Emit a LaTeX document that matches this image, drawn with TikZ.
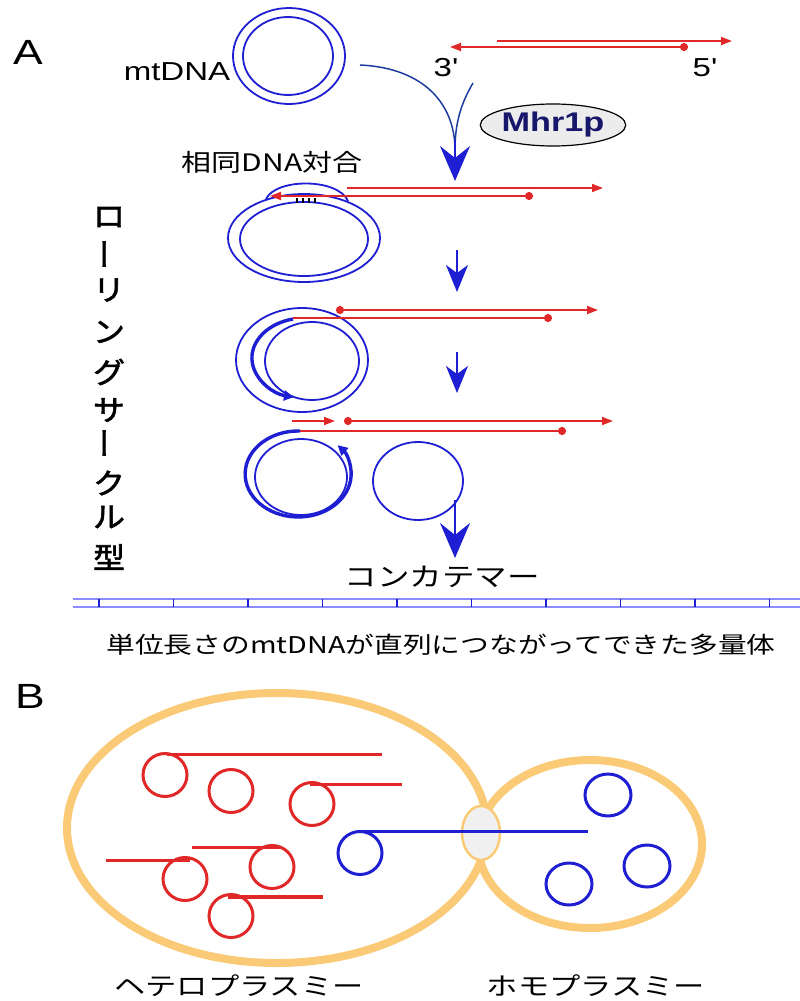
\documentclass[tikz,border=0pt]{standalone}
\usepackage{fontspec}
\setmainfont[FakeStretch=1.27]{Liberation Sans}
\newfontfamily\lat[FakeStretch=1.27]{Liberation Sans}
\newfontfamily\jp[FakeStretch=1.25]{Noto Sans CJK JP}
\newfontfamily\jpb[FakeStretch=1.1,FakeBold=2]{Noto Sans CJK JP}
\usetikzlibrary{arrows.meta,shapes.geometric}

\definecolor{dnablue}{RGB}{30,30,210}
\definecolor{arcblue}{RGB}{30,60,160}
\definecolor{dnared}{RGB}{225,40,40}
\definecolor{cellwall}{RGB}{250,202,118}
\definecolor{protnavy}{RGB}{22,22,106}
\definecolor{concat}{RGB}{140,140,255}

\tikzset{
  bluestrand/.style={draw=dnablue,line width=1.8pt},
  newstrand/.style={draw=dnablue,line width=3.4pt},
  redstrand/.style={draw=dnared,line width=1.8pt},
  redtip/.style={-{Triangle[length=11pt,width=8pt]}},
  dottip/.style={{Circle[length=8pt]}-{Triangle[length=11pt,width=8pt]}},
  bigflow/.style={dnablue,line width=1.8pt,-{Stealth[length=35pt,width=30pt,inset=12pt]}},
  flow/.style={dnablue,line width=1.8pt,-{Stealth[length=27pt,width=22pt,inset=8pt]}},
  lbl/.style={inner sep=0pt,font=\fontsize{26}{26}\selectfont},
  jlbl/.style={inner sep=0pt,font=\jp\fontsize{24}{24}\selectfont},
  cell/.style={draw=cellwall,line width=8pt},
  loopred/.style={draw=dnared,line width=3pt},
  loopblue/.style={draw=dnablue,line width=3pt},
}

\begin{document}
\begin{tikzpicture}[x=1pt,y=-1pt]
\pgfsetlinewidth{1.8pt}
\useasboundingbox (0,0) rectangle (800,1001);
%
% A: entrada de la mtDNA
\node[lbl,font=\fontsize{35}{35}\selectfont] (A) at (28,52) {A};
\node[lbl] (mt) at (177,72) {mtDNA};
\draw[bluestrand] (289,56) ellipse[x radius=56,y radius=48];
\draw[bluestrand] (288,56) ellipse[x radius=45,y radius=39];
\draw[redstrand,redtip] (497,41) -- (732,41);
\draw[redstrand,dottip] (688,47) -- (450,47);
\node[lbl,font=\lat\fontsize{26}{26}\selectfont] (p3) at (446,68) {3'};
\node[lbl,font=\lat\fontsize{26}{26}\selectfont] (p5) at (705,68) {5'};
\node[draw,ellipse,fill=gray!15,line width=1.2pt,minimum width=128pt,minimum height=42pt,
  inner sep=0pt,font=\bfseries\fontsize{27}{27}\selectfont,text=protnavy] (mhr) at (553,125) {Mhr1p};
%
\coordinate (ltop) at (360,65);
\coordinate (rtop) at (473,83);
\coordinate (meet) at (455,150);
\coordinate (pair) at (455,181);
\draw[arcblue,line width=1.5pt] (ltop) .. controls (425,68) and (455,105) .. (meet);
\draw[arcblue,line width=1.5pt] (rtop) .. controls (460,105) and (455,125) .. (meet);
\draw[bigflow] (455,140) -- (pair);
\node[jlbl] (homol) at (272,162) {相同DNA対合};
%
% apareamiento (D-loop)
\draw[bluestrand] (304,238) ellipse[x radius=76,y radius=44];
\draw[bluestrand] (304,239) ellipse[x radius=64,y radius=37];
\draw[bluestrand] (266,199) .. controls (276,178) and (338,178) .. (348,201);
\foreach \x in {297,303,309,315}
  \draw[black,line width=1.2pt] (\x,198) -- (\x,203);
\draw[redstrand,redtip] (347,188) -- (603,188);
\draw[redstrand,dottip] (533,196) -- (270,196);
\coordinate (s1) at (457,250);
\coordinate (s1e) at (457,292);
\draw[flow] (s1) -- (s1e);
%
% replicacion en circulo rodante
\draw[bluestrand] (302,360) ellipse[x radius=66,y radius=52];
\draw[bluestrand] (312,361) ellipse[x radius=47,y radius=39];
\draw[newstrand,-{Triangle[length=10pt,width=10pt]}] (293,319)
  arc[start angle=-103,end angle=-258,x radius=53,y radius=40];
\draw[redstrand,dottip] (336,310) -- (598,310);
\draw[redstrand,-{Circle[length=8pt]}] (293,318) -- (552,318);
\coordinate (s2) at (457,352);
\coordinate (s2e) at (457,393);
\draw[flow] (s2) -- (s2e);
%
\draw[bluestrand] (301,477) ellipse[x radius=46,y radius=38];
\draw[newstrand,-{Triangle[length=10pt,width=10pt]}] (300,431)
  arc[start angle=-88,end angle=-402,x radius=53,y radius=43];
\draw[bluestrand] (418,481) ellipse[x radius=45,y radius=39];
\draw[redstrand,redtip] (292,421) -- (335,421);
\draw[redstrand,dottip] (344,421) -- (613,421);
\draw[redstrand,-{Circle[length=8pt]}] (300,431) -- (566,431);
\coordinate (s3) at (455,500);
\coordinate (s3e) at (455,558);
\draw[bigflow] (s3) -- (s3e);
%
% rotulo vertical
\foreach \ch/\yy/\rot [count=\i] in {ロ/217/0,ー/254/90,リ/290/0,ン/332/0,グ/372/0,
  サ/410/0,ー/443/90,ク/483/0,ル/517/0,型/557/0}
  \node[inner sep=0pt,font=\jpb\fontsize{29}{29}\selectfont,rotate=\rot] (rc\i) at (109,\yy) {\ch};
%
% concatemero
\node[jlbl,font=\jp\fontsize{26}{26}\selectfont] (conc) at (442,577) {コンカテマー};
\draw[concat,line width=2.6pt] (73,599) -- (800,599);
\draw[concat,line width=2.6pt] (73,607) -- (800,607);
\foreach \k in {0,...,9}
  \draw[dnablue,line width=1.6pt] ({99+74.5*\k},599) -- ++(0,8);
\node[jlbl,font=\jp\fontsize{23}{23}\selectfont] (unit) at (441,645)
  {単位長さのmtDNAが直列につながってできた多量体};
%
% B: celulas
\node[lbl,font=\fontsize{35}{35}\selectfont] (B) at (30,696) {B};
\draw[cell] (590,844) ellipse[x radius=112,y radius=84];
\draw[cell] (277,828) ellipse[x radius=210,y radius=135];
\draw[draw=cellwall,fill=gray!12,line width=2.5pt] (481,833) ellipse[x radius=19,y radius=27];
%
\foreach \cx/\cy in {165/775,231/791,312/804,185/879,272/867,231/916}
  \draw[loopred] (\cx,\cy) ellipse[x radius=22,y radius=21.5];
\draw[loopred] (167,754) -- (382,754);
\draw[loopred] (310,784) -- (402,784);
\draw[loopred] (106,860) -- (190,860);
\draw[loopred] (192,847) -- (280,847);
\draw[loopred,line width=4.5pt] (228,897) -- (323,897);
%
\draw[loopblue] (360,853) ellipse[x radius=22,y radius=21.5];
\draw[loopblue] (357,831) -- (588,831);
\foreach \cx/\cy in {608/795,647/866,569/884}
  \draw[loopblue] (\cx,\cy) ellipse[x radius=23,y radius=21];
%
\node[jlbl,font=\jp\fontsize{25}{25}\selectfont] (het) at (239,986) {ヘテロプラスミー};
\node[jlbl,font=\jp\fontsize{25}{25}\selectfont] (hom) at (596,986) {ホモプラスミー};
\end{tikzpicture}
\end{document}
